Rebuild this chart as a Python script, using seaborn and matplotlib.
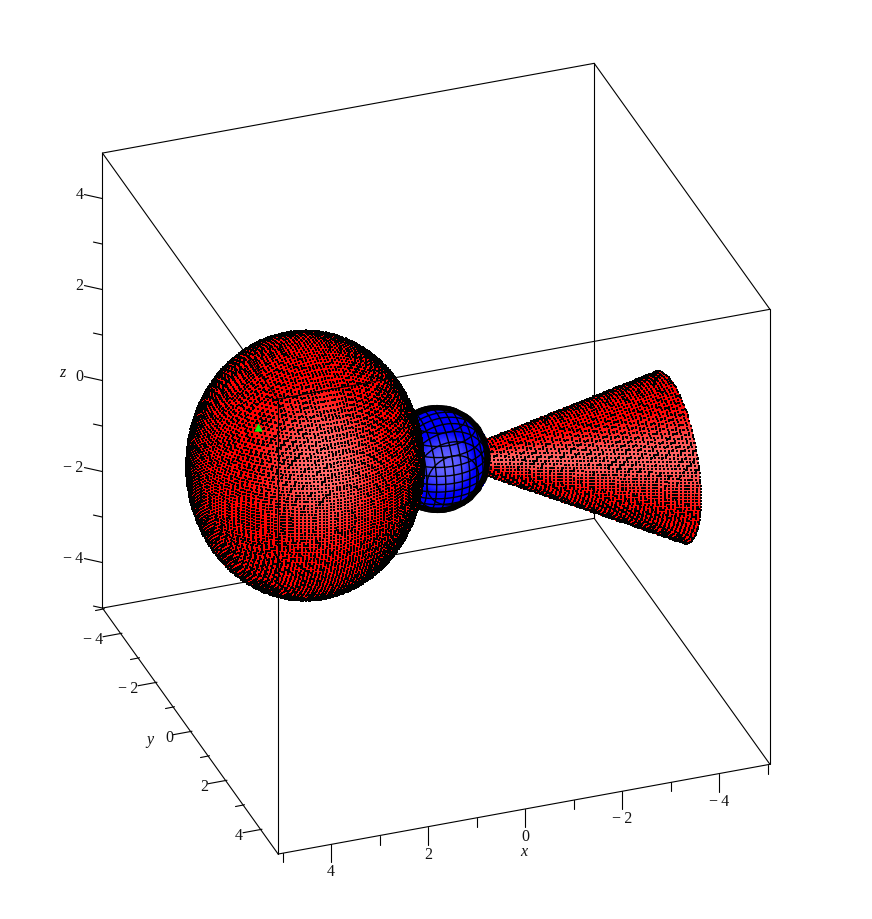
import numpy as np
import seaborn as sns
import matplotlib
matplotlib.use("Agg")
import matplotlib.pyplot as plt

sns.set_theme(style="white")
plt.rcParams["font.family"] = ["Liberation Serif", "DejaVu Serif"]

# values
x_major = [-4, -2, 0, 2, 4]
y_major = [-4, -2, 0, 2, 4]
z_major = [-4, -2, 0, 2, 4]
x_minor = [-5, -3, -1, 1, 3, 5]
y_minor = [-5, -3, -1, 1, 3]
z_minor = [-5, -3, -1, 1, 3]
box_x = [-5.05, 5.09]
box_y = [-5.04, 5.0]
box_z = [-5.0, 5.0]

ball_center = [2.66, -0.19, 0.27]
ball_radii = [2.31, 2.31, 2.66]
small_radius = 1.02
cone_rim_center = [-4.72, 0.32, -0.71]
cone_rim_radius = 1.67
green_point = [4.06, 1.0, 2.03]
mesh_steps = [0.071, 0.079, 0.064]

# picture axes of the view, pixels per unit
origin = np.array([437.5, 459.0])
ex = np.array([-48.5, 8.85])
ey = np.array([17.5, 24.5])
ez = np.array([0.0, -45.5])
screen_right = np.array([-0.933, 0.337, 0.0])
screen_down = np.array([0.170, 0.471, -0.875])
to_viewer = np.array([0.295, 0.816, 0.497])
light = np.array([0.164, 0.892, 0.408])


def project(x, y, z):
    x, y, z = np.asarray(x), np.asarray(y), np.asarray(z)
    return (origin[0] + x * ex[0] + y * ey[0] + z * ez[0],
            origin[1] + x * ex[1] + y * ey[1] + z * ez[1])


def ball_eq(p):
    return sum(((p[i] - ball_center[i]) / ball_radii[i]) ** 2 for i in range(3)) - 1


def cone_eq(p):
    t = p[0] / cone_rim_center[0]
    return ((p[1] - t * cone_rim_center[1]) ** 2 + (p[2] - t * cone_rim_center[2]) ** 2
            - (cone_rim_radius * t) ** 2)


def small_eq(p):
    return p[0] ** 2 + p[1] ** 2 + p[2] ** 2 - small_radius ** 2


def gradient(f, p, d=1e-3):
    out = []
    for i in range(3):
        a = [q.copy() for q in p]
        b = [q.copy() for q in p]
        a[i] = a[i] + d
        b[i] = b[i] - d
        out.append((f(a) - f(b)) / (2 * d))
    return np.array(out)


def facing(f, p):
    # returns how much the surface faces the viewer and the light
    g = gradient(f, p)
    n = g / np.sqrt((g ** 2).sum(axis=0))
    view = sum(to_viewer[i] * n[i] for i in range(3))
    lit = sum(light[i] * n[i] for i in range(3))
    return view, lit


def grid_hits(f, keep=None):
    # where the surface crosses the lines of a regular grid, like an implicit plot
    xs, ys, zs = [], [], []
    for i in range(3):
        j, k = [a for a in range(3) if a != i]
        A, B = np.meshgrid(np.arange(-5, 5, mesh_steps[j]), np.arange(-5, 5, mesh_steps[k]))
        base = [None] * 3
        base[j], base[k] = A.ravel(), B.ravel()
        base[i] = np.zeros(A.size)
        up = [q.copy() for q in base]
        dn = [q.copy() for q in base]
        up[i] = up[i] + 1
        dn[i] = dn[i] - 1
        c0 = f(base)
        a0 = (f(up) + f(dn)) / 2 - c0
        b0 = (f(up) - f(dn)) / 2
        disc = b0 ** 2 - 4 * a0 * c0
        ok = (disc > 0) & (np.abs(a0) > 1e-9)
        for sign in (-1, 1):
            lam = (-b0[ok] + sign * np.sqrt(disc[ok])) / (2 * a0[ok])
            p = [base[0][ok].copy(), base[1][ok].copy(), base[2][ok].copy()]
            p[i] = lam
            xs.append(p[0])
            ys.append(p[1])
            zs.append(p[2])
    p = [np.concatenate(xs), np.concatenate(ys), np.concatenate(zs)]
    if keep is not None:
        m = keep(p)
        p = [q[m] for q in p]
    view, _ = facing(f, p)
    return [q[view > 0] for q in p]


def shaded(ax, f, p, cmap, zorder, low=0.8):
    view, lit = facing(f, p)
    c = np.clip((lit - low) / (1 - low), 0, 1)
    c = np.ma.masked_where(view < 0, c)
    px, py = project(*p)
    ax.pcolormesh(px, py, c[:-1, :-1], cmap=cmap, vmin=0, vmax=1, shading="flat",
                  antialiased=False, linewidth=0, zorder=zorder, rasterized=True)


def specks(ax, p, zorder):
    px, py = project(*p)
    sns.scatterplot(x=px, y=py, color="black", marker="s", s=0.65, linewidth=0, ax=ax,
                    zorder=zorder, legend=False)


fig, ax = plt.subplots(figsize=(8.72, 9.19), dpi=100)
fig.subplots_adjust(0, 0, 1, 1)

reds = sns.blend_palette(["#ff0000", "#ff2020", "#ff7272"], as_cmap=True)
blues = sns.blend_palette(["#0000ff", "#6a6aff"], as_cmap=True)

# cone
T, PHI = np.meshgrid(np.linspace(0.02, 1, 120), np.linspace(0, 2 * np.pi, 361))
cone_surface = [T * cone_rim_center[0],
                T * (cone_rim_center[1] + cone_rim_radius * np.cos(PHI)),
                T * (cone_rim_center[2] + cone_rim_radius * np.sin(PHI))]
shaded(ax, cone_eq, cone_surface, reds, 3, low=0.76)
specks(ax, grid_hits(cone_eq, keep=lambda p: (p[0] < 0) & (p[0] > cone_rim_center[0])), 4)

# small blue ball with its mesh
TH, PH = np.meshgrid(np.linspace(0, np.pi, 181), np.linspace(0, 2 * np.pi, 361))
small_surface = [small_radius * np.sin(TH) * np.cos(PH),
                 small_radius * np.sin(TH) * np.sin(PH),
                 small_radius * np.cos(TH)]
shaded(ax, small_eq, small_surface, blues, 5, low=0.8)
ang = np.linspace(0, 2 * np.pi, 241)
for axis in range(3):
    a, b = [i for i in range(3) if i != axis]
    for lev in np.arange(-1.0, 1.01, 0.17):
        rho = np.sqrt(max(small_radius ** 2 - lev ** 2, 0))
        p = [None] * 3
        p[axis] = np.full(ang.size, lev)
        p[a] = rho * np.cos(ang)
        p[b] = rho * np.sin(ang)
        front = to_viewer[0] * p[0] + to_viewer[1] * p[1] + to_viewer[2] * p[2]
        lx, ly = project(*p)
        lx = np.where(front > 0, lx, np.nan)
        ax.plot(lx, ly, color="black", lw=1.0, zorder=6, solid_capstyle="butt")
rim = [0.97 * (np.cos(ang) * screen_right[i] + np.sin(ang) * screen_down[i]) for i in range(3)]
lx, ly = project(*rim)
ax.plot(lx, ly, color="black", lw=4.0, zorder=6)

# big red ball
TH2, PH2 = np.meshgrid(np.linspace(0, np.pi, 361), np.linspace(0, 2 * np.pi, 721))
ball_surface = [ball_center[0] + ball_radii[0] * np.sin(TH2) * np.cos(PH2),
                ball_center[1] + ball_radii[1] * np.sin(TH2) * np.sin(PH2),
                ball_center[2] + ball_radii[2] * np.cos(TH2)]
shaded(ax, ball_eq, ball_surface, reds, 7, low=0.78)
specks(ax, grid_hits(ball_eq), 8)

# box, back edges under the surfaces and front edges over them
xa, xb = box_x
ya, yb = box_y
za, zb = box_z
back_edges = [((xa, ya, za), (xb, ya, za)), ((xa, ya, za), (xa, yb, za)), ((xa, ya, za), (xa, ya, zb)),
              ((xa, ya, zb), (xb, ya, zb)), ((xa, ya, zb), (xa, yb, zb)),
              ((xb, ya, za), (xb, ya, zb)), ((xb, ya, za), (xb, yb, za)),
              ((xa, yb, za), (xb, yb, za)), ((xa, yb, za), (xa, yb, zb))]
front_edges = [((xb, yb, za), (xb, yb, zb)), ((xb, ya, zb), (xb, yb, zb)), ((xa, yb, zb), (xb, yb, zb))]
for s, e in back_edges:
    lx, ly = project(*zip(s, e))
    ax.plot(lx, ly, color="black", lw=0.8, zorder=1)
for s, e in front_edges:
    lx, ly = project(*zip(s, e))
    ax.plot(lx, ly, color="black", lw=0.8, zorder=10)


def tick(sx, sy, dx, dy):
    ax.plot([sx, sx + dx], [sy, sy + dy], color="black", lw=0.8, zorder=2)


def label(s, lx, ly, ha="center", style="normal"):
    ax.text(lx, ly, s, ha=ha, va="center", fontsize=11.5, color="#111111", style=style, zorder=11)


def num(v):
    return str(v).replace("-", "\u2212\u2009") if v < 0 else str(v)


for v in x_major:
    sx, sy = project(v, 5, -5)
    tick(sx, sy, 0, 18)
    label(num(v), sx, sy + 28)
for v in y_major:
    sx, sy = project(5.0, v, -5)
    sx, sy = sx - 3.0, sy + 0.5
    tick(sx, sy, -19, 3.5)
    label(num(v), sx - 19, sy + 7, ha="right")
for v in z_major:
    sx, sy = project(xb, ya, v)
    tick(sx, sy, -18, -4)
    label(num(v), sx - 19, sy - 4, ha="right")
for v in x_minor:
    sx, sy = project(v, 5, -5)
    tick(sx, sy, 0, 9)
for v in y_minor:
    sx, sy = project(5.0, v, -5)
    tick(sx - 3.0, sy + 0.5, -9, 1.8)
for v in z_minor:
    sx, sy = project(xb, ya, v)
    tick(sx, sy, -9, -2)

label("x", 524, 852, style="italic")
label("y", 150, 740, style="italic")
label("z", 62, 373, style="italic")

# little green marker on the ball
gx, gy = project(*green_point)
sns.scatterplot(x=[float(gx)], y=[float(gy)], color="#12ee12", marker="^", s=36, linewidth=0, ax=ax,
                zorder=12, legend=False)

ax.set_xlim(0, 872)
ax.set_ylim(919, 0)
ax.set_axis_off()
fig.savefig("out.png", dpi=100)
